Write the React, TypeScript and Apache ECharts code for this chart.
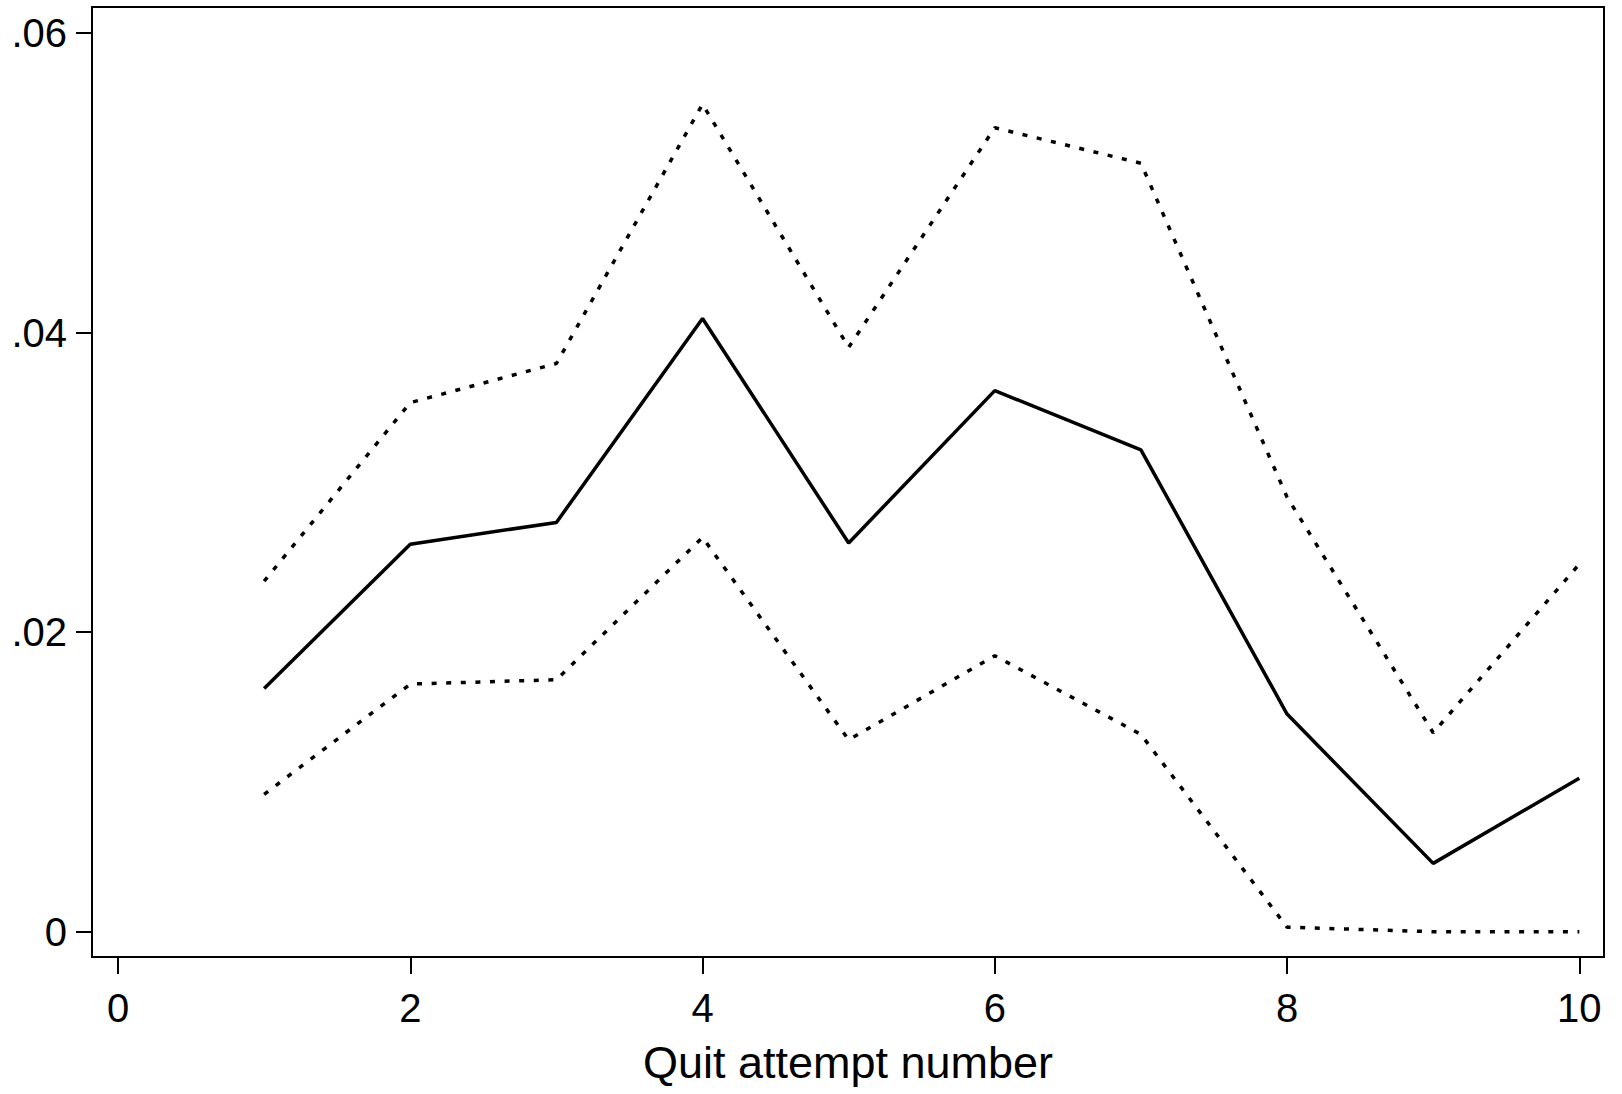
import React, { useEffect, useRef } from "react";
import * as echarts from "echarts";

const attempts = [1, 2, 3, 4, 5, 6, 7, 8, 9, 10];
const estimate = [0.01624, 0.02587, 0.02732, 0.04093, 0.02595, 0.03612, 0.03217, 0.01453, 0.00456, 0.01024];
const upperCI = [0.0234, 0.03532, 0.03793, 0.05524, 0.03901, 0.05367, 0.0513, 0.02901, 0.01328, 0.02454];
const lowerCI = [0.00917, 0.01653, 0.01682, 0.02632, 0.01281, 0.01842, 0.01317, 0.0003, 0.0, 0.0];

const xTicks = [0, 2, 4, 6, 8, 10];
const yTicks = [0, 0.02, 0.04, 0.06];
const yTickLabels = ["0", ".02", ".04", ".06"];
const xTitle = "Quit attempt number";

const FONT = "'Liberation Sans', Arial, Helvetica, sans-serif";

export default function App() {
  const ref = useRef<HTMLDivElement>(null);
  useEffect(() => {
    if (!ref.current) return;
    const chart = echarts.init(ref.current, undefined, { renderer: "svg" });
    const toPairs = (ys: number[]) => attempts.map((x, i) => [x, ys[i]]);
    const dotted = { color: "#000", width: 3.5, type: [5, 9.6] };
    chart.setOption({
      animation: false,
      backgroundColor: "#fff",
      grid: {
        left: 92,
        top: 7,
        right: 18,
        bottom: 137,
        show: true,
        borderColor: "#000",
        borderWidth: 2,
      },
      xAxis: {
        type: "value",
        min: -0.178,
        max: 10.169,
        name: xTitle,
        nameLocation: "middle",
        nameGap: 83,
        nameTextStyle: { fontFamily: FONT, fontSize: 45, color: "#000" },
        axisLine: { show: true, onZero: false, lineStyle: { color: "#000", width: 2 } },
        axisTick: { show: true, length: 17, lineStyle: { color: "#000", width: 2 }, customValues: xTicks },
        axisLabel: {
          show: true,
          customValues: xTicks,
          margin: 31,
          fontFamily: FONT,
          fontSize: 40,
          color: "#000",
          formatter: (v: number) => String(Math.round(v)),
        },
        splitLine: { show: false },
      },
      yAxis: {
        type: "value",
        min: -0.00169,
        max: 0.06173,
        axisLine: { show: true, onZero: false, lineStyle: { color: "#000", width: 2 } },
        axisTick: { show: true, length: 16, lineStyle: { color: "#000", width: 2 }, customValues: yTicks },
        axisLabel: {
          show: true,
          customValues: yTicks,
          margin: 25,
          fontFamily: FONT,
          fontSize: 40,
          color: "#000",
          formatter: (v: number) => {
            const i = yTicks.findIndex((t) => Math.abs(t - v) < 1e-9);
            return i >= 0 ? yTickLabels[i] : "";
          },
        },
        splitLine: { show: false },
      },
      series: [
        {
          type: "line",
          data: toPairs(upperCI),
          symbol: "none",
          lineStyle: dotted,
        },
        {
          type: "line",
          data: toPairs(estimate),
          symbol: "none",
          lineStyle: { color: "#000", width: 3.5, type: "solid" },
        },
        {
          type: "line",
          data: toPairs(lowerCI),
          symbol: "none",
          lineStyle: dotted,
        },
      ],
    });
    return () => chart.dispose();
  }, []);
  return (
    <div
      ref={ref}
      style={{ position: "fixed", left: 0, top: 0, width: "1622px", height: "1094px", background: "#fff" }}
    />
  );
}
